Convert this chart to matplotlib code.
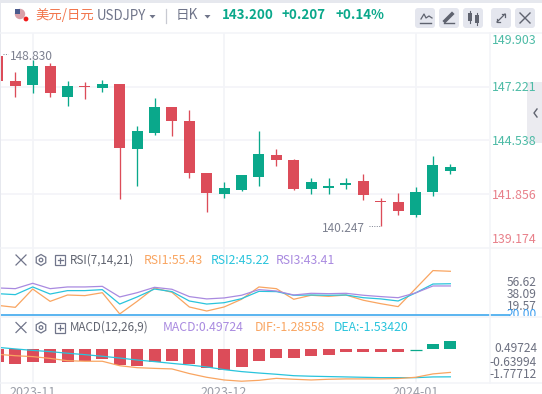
import matplotlib
matplotlib.use("Agg")
import matplotlib.pyplot as plt
from matplotlib.patches import FancyBboxPatch, Rectangle, RegularPolygon, Circle

plt.rcParams['font.family'] = ['Noto Sans CJK SC', 'DejaVu Sans']

# candles
opens = [148.744, 147.496, 147.296, 148.245, 146.697, 147.246, 147.146, 147.346, 144.100, 144.899, 146.197,
         145.498, 142.902, 141.853, 142.053, 142.702, 143.801, 143.551, 142.103, 142.153, 142.303, 142.503,
         141.470, 141.454, 140.805, 141.953, 143.002]
highs = [148.830, 147.945, 148.544, 148.394, 147.496, 147.446, 147.546, 147.346, 145.249, 146.647, 146.197,
         146.048, 142.902, 142.453, 142.802, 144.999, 144.100, 143.601, 142.652, 142.652, 142.652, 142.852,
         141.654, 141.903, 142.203, 143.751, 143.351]
lows = [147.496, 146.697, 146.896, 146.697, 146.247, 146.597, 146.946, 141.604, 142.253, 144.799, 144.749,
        142.652, 140.955, 141.654, 142.003, 142.253, 143.252, 142.053, 141.853, 141.853, 142.103,
        141.554, 140.247, 140.805, 140.705, 141.753, 142.852]
closes = [147.496, 147.246, 148.245, 146.896, 147.246, 147.196, 147.346, 144.150, 144.999, 146.197, 145.498,
          142.902, 141.903, 142.153, 142.803, 143.851, 143.551, 142.103, 142.453, 142.253, 142.403, 141.803,
          141.440, 141.005, 141.953, 143.301, 143.200]

rsi1 = [27.5, 25.9, 40.9, 30.8, 36.0, 35.5, 37.9, 20.5, 30.8, 41.8, 38.2, 26.2, 22.9, 26.2, 32.5, 42.6, 41.2,
        32.5, 35.8, 34.9, 36.0, 31.7, 28.9, 26.5, 41.2, 56.0, 55.43]
rsi2 = [37.1, 36.3, 42.6, 36.8, 39.6, 39.6, 40.4, 28.6, 34.4, 40.9, 38.8, 31.1, 28.6, 29.7, 33.0, 39.0, 38.8,
        35.8, 36.0, 35.8, 36.0, 33.8, 32.8, 31.1, 37.7, 45.0, 45.22]
rsi3 = [41.8, 41.2, 45.6, 41.2, 42.6, 42.6, 43.1, 34.4, 37.9, 42.3, 40.7, 34.7, 32.8, 33.6, 35.8, 40.4, 39.3,
        36.0, 37.4, 37.1, 37.4, 35.8, 34.7, 33.8, 37.7, 43.4, 43.41]

macd = [-0.70, -0.81, -0.70, -0.76, -0.70, -0.64, -0.53, -0.87, -0.92, -0.70, -0.64, -0.81, -1.04, -1.15, -0.98,
        -0.64, -0.48, -0.48, -0.36, -0.31, -0.12, -0.12, -0.12, -0.12, 0.03, 0.31, 0.49724]
dif = [-0.27, -0.35, -0.40, -0.50, -0.63, -0.66, -0.66, -0.91, -1.02, -1.06, -1.09, -1.35, -1.56, -1.71, -1.78,
       -1.73, -1.62, -1.67, -1.71, -1.67, -1.65, -1.65, -1.65, -1.63, -1.56, -1.37, -1.28558]
dea = [0.12, 0.03, -0.05, -0.12, -0.21, -0.29, -0.38, -0.48, -0.59, -0.68, -0.78, -0.87, -0.98, -1.13, -1.24,
       -1.32, -1.39, -1.47, -1.50, -1.52, -1.54, -1.56, -1.58, -1.58, -1.58, -1.54, -1.5342]

date_pos = [2, 13, 24]
date_labels = ['2023-11', '2023-12', '2024-01']

price_labels = ['149.903', '147.221', '144.538', '141.856', '139.174']
price_ticks = [147.221, 144.538, 141.856]
rsi_labels = ['56.62', '38.09', '19.57']
macd_labels = ['0.49724', '-0.63994', '-1.77712']

RED = '#dc4c59'
GREEN = '#0aa88b'
ORANGE = '#f9a561'
CYAN = '#29c4dc'
PURPLE = '#a98ae0'
GRID = '#f3f4f8'
GREY = '#7d8190'
W, H = 542, 394

fig = plt.figure(figsize=(W / 100, H / 100), dpi=100, facecolor='white')


# axes placed with pixel values
def panel(top, bottom):
    a = fig.add_axes([1 / W, 1 - bottom / H, 488.5 / W, (bottom - top) / H])
    a.set_xlim(0.178, 28.25)
    a.patch.set_alpha(0)
    for s in a.spines.values():
        s.set_visible(False)
    a.tick_params(length=0, labelleft=False, labelbottom=False)
    a.set_xticks(date_pos)
    a.grid(True, axis='x', color=GRID, lw=1.3)
    a.set_axisbelow(True)
    return a


ax = panel(33, 248)
ax.set_ylim(139.16, 149.892)
ax.set_yticks(price_ticks)
ax.grid(True, axis='y', color=GRID, lw=1.2)
xs = list(range(len(opens)))
for i in xs:
    col = GREEN if closes[i] >= opens[i] else RED
    ax.vlines(i, lows[i], highs[i], color=col, lw=0.95)
    h = max(abs(closes[i] - opens[i]), 0.05)
    ax.bar(i, h, bottom=min(opens[i], closes[i]), width=0.63, color=col)

ax_rsi = panel(248, 316.5)
ax_rsi.set_ylim(18.4, 74.5)
ax_rsi.set_yticks([])
ax_rsi.plot(xs, rsi1, color=ORANGE, lw=0.9)
ax_rsi.plot(xs, rsi2, color=CYAN, lw=0.9)
ax_rsi.plot(xs, rsi3, color=PURPLE, lw=0.9)
ax_rsi.axhline(20, xmin=-0.01, xmax=1.04, color='#5ab4f0', lw=1.4, clip_on=False)

ax_macd = panel(316.5, 383)
ax_macd.set_ylim(-1.88, 1.85)
ax_macd.set_yticks([])
for i in xs:
    # very small bars still show as a hairline
    if abs(macd[i]) < 0.06:
        ax_macd.hlines(-macd[i], i - 0.345, i + 0.345, color=GREEN, lw=0.9)
    else:
        ax_macd.bar(i, macd[i], width=0.69, color=GREEN if macd[i] >= 0 else RED)
ax_macd.plot(xs, dea, color=CYAN, lw=0.9)
ax_macd.plot(xs, dif, color=ORANGE, lw=0.9)

# everything else is drawn in pixel coordinates on an overlay
ov = fig.add_axes([0, 0, 1, 1])
ov.set_xlim(0, W)
ov.set_ylim(H, 0)
ov.axis('off')
ov.patch.set_alpha(0)

ov.add_patch(Rectangle((0, 0), W, 2.5, color='#e6e8ee', lw=0))
ov.add_patch(Rectangle((0, 0), 1, H, color='#e6e8ee', lw=0))
for y in [33, 248, 316.5, 383]:
    ov.plot([1, W], [y, y], color=GRID, lw=1.1)
ov.plot([489.5, 489.5], [33, 383], color=GRID, lw=1.1)


def txt(x, y, s, color=GREY, size=8.8, ha='left', **kw):
    return ov.text(x, y, s, color=color, fontsize=size, ha=ha, va='center', **kw)


# header
ov.add_patch(Circle((20, 14), 5.2, color='#d9a0a8', lw=0))
ov.add_patch(Rectangle((15, 9), 5, 5, color='#4a5a8c', lw=0))
ov.add_patch(Circle((26, 19), 2.4, color='#f01818', lw=0))
txt(35, 15, '美元/日元', '#f2754c', 9.6)
txt(97, 16, 'USDJPY', '#70758a', 9.6)
ov.fill([149.5, 155.5, 152.5], [15, 15, 18.5], color='#70758a', lw=0)
ov.plot([166, 166], [9, 23], color='#c8cad2', lw=0.9)
txt(176, 15, '日K', '#70758a', 9.8)
ov.fill([204.5, 210.5, 207.5], [15, 15, 18.5], color='#70758a', lw=0)
txt(222, 15, '143.200', GREEN, 9.6, fontweight='bold')
txt(282, 15, '+0.207', GREEN, 9.6, fontweight='bold')
txt(335, 15, '+0.14%', GREEN, 9.6, fontweight='bold')

# toolbar buttons
for bx in [415, 439, 463, 491, 515]:
    ov.add_patch(FancyBboxPatch((bx + 2, 10), 16, 16, boxstyle='round,pad=2,rounding_size=3', color='#e4e6ee', lw=0))
ICON = '#5f636f'
ov.plot([421, 424, 426, 429, 432], [19, 14, 18, 16, 18], color=ICON, lw=0.9)
ov.plot([420, 431], [22.5, 22.5], color=ICON, lw=1.0)
ov.plot([445, 452], [21, 14], color=ICON, lw=2.6)
ov.plot([444, 454], [23, 23], color=ICON, lw=1.0)
ov.add_patch(Rectangle((468, 13), 4, 8, color=ICON, lw=0))
ov.add_patch(Rectangle((475, 15), 4, 8, color=ICON, lw=0))
ov.plot([470, 470], [11, 23], color=ICON, lw=0.8)
ov.plot([477, 477], [13, 25], color=ICON, lw=0.8)
ov.plot([497, 505], [22, 14], color=ICON, lw=0.9)
ov.plot([502, 505, 505], [14, 14, 17], color=ICON, lw=0.9)
ov.plot([497, 497, 500], [19, 22, 22], color=ICON, lw=0.9)
ov.plot([520, 530], [13, 23], color=ICON, lw=1.0)
ov.plot([520, 530], [23, 13], color=ICON, lw=1.0)

# side tab
ov.add_patch(Rectangle((527, 82), 15, 61, color='#ebebf0', lw=0))
ov.plot([537, 534, 537], [109, 113, 117], color='#5f636f', lw=1.0)

# right hand labels
for lab, y, c in zip(price_labels, [40, 87.5, 141.5, 195.5, 239],
                     ['#4dbba6', '#4dbba6', '#4dbba6', '#e8808a', '#e8808a']):
    txt(537, y, lab, c, 8.9, ha='right')
for lab, y in zip(rsi_labels, [282, 295, 307]):
    txt(537, y, lab, '#6c7080', 8.6, ha='right')
t20 = txt(537, 315, '20.00', '#3f9ff0', 8.6, ha='right', clip_on=True)
t20.set_clip_path(Rectangle((490, 248), 52, 68, transform=ov.transData))
for lab, y in zip(macd_labels, [349, 362, 375]):
    txt(537, y, lab, '#6c7080', 8.6, ha='right')

# high and low marks
txt(10, 56, '148.830', GREY, 8.6)
ov.plot([3, 8], [54, 54], color=GREY, lw=0.7, ls=(0, (1, 1.5)))
txt(322, 228, '140.247', GREY, 8.6)
ov.plot([369, 380], [226, 226], color=GREY, lw=0.7, ls=(0, (1, 1.5)))


# indicator header rows
def controls(y):
    ov.plot([16, 26], [y - 5, y + 5], color='#70758a', lw=0.9)
    ov.plot([16, 26], [y + 5, y - 5], color='#70758a', lw=0.9)
    ov.add_patch(RegularPolygon((41, y), 6, radius=5.5, fill=False, ec='#70758a', lw=0.9))
    ov.add_patch(Circle((41, y), 1.8, fill=False, ec='#70758a', lw=0.9))
    ov.add_patch(Rectangle((55, y - 5), 10, 10, fill=False, ec='#70758a', lw=0.9))
    ov.plot([57.5, 62.5], [y, y], color='#70758a', lw=0.9)
    ov.plot([60, 60], [y - 2.5, y + 2.5], color='#70758a', lw=0.9)


controls(260)
txt(70, 260, 'RSI(7,14,21)', '#5f636f', 8.4)
txt(144, 260, 'RSI1:55.43', ORANGE, 8.8)
txt(211, 260, 'RSI2:45.22', CYAN, 8.8)
txt(276, 260, 'RSI3:43.41', PURPLE, 8.8)
controls(327.5)
txt(70, 327.5, 'MACD(12,26,9)', '#5f636f', 8.4)
txt(163, 327.5, 'MACD:0.49724', PURPLE, 8.8)
txt(255, 327.5, 'DIF:-1.28558', ORANGE, 8.8)
txt(334, 327.5, 'DEA:-1.53420', CYAN, 8.8)

# date labels, cut by the bottom edge like the original
for p, lab in zip(date_pos, date_labels):
    txt(-2.1 + 17.4 * p, 393, lab, '#9a9ea8', 9.0, ha='center')

fig.savefig('out.png', dpi=100)
